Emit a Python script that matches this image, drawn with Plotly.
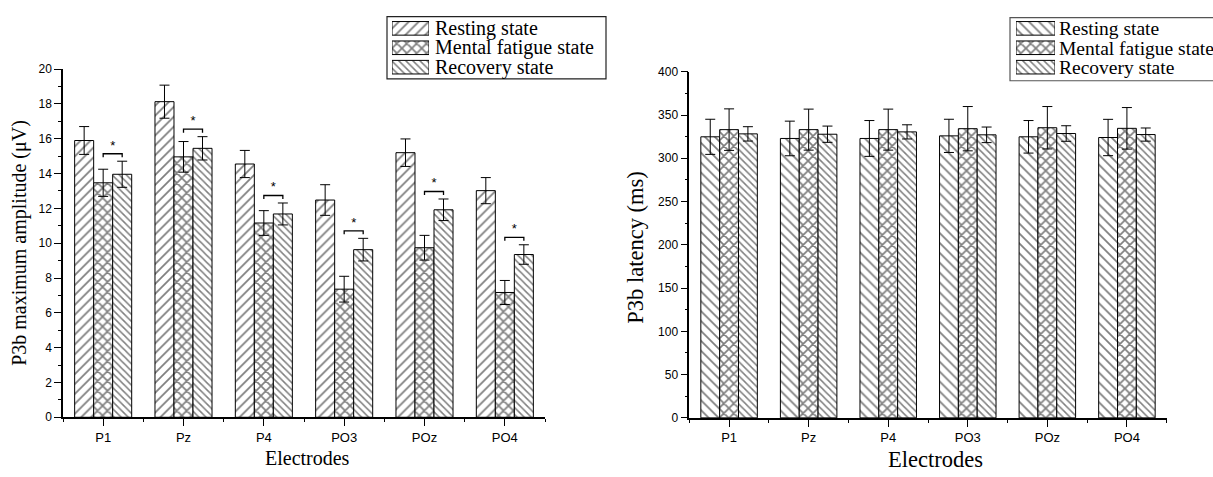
import plotly.graph_objects as go

# ---------------- data ----------------
electrodes = ["P1", "Pz", "P4", "PO3", "POz", "PO4"]
state_names = ["Resting state", "Mental fatigue state", "Recovery state"]

amp_rest = [15.9, 18.13, 14.55, 12.48, 15.2, 13.02]
amp_rest_err = [0.8, 0.95, 0.78, 0.88, 0.79, 0.75]
amp_fatigue = [13.47, 14.96, 11.16, 7.36, 9.74, 7.17]
amp_fatigue_err = [0.78, 0.88, 0.71, 0.74, 0.71, 0.69]
amp_recovery = [13.96, 15.45, 11.68, 9.63, 11.92, 9.35]
amp_recovery_err = [0.75, 0.67, 0.63, 0.65, 0.62, 0.56]

lat_rest = [324.8, 322.9, 322.9, 325.9, 324.8, 324.0]
lat_rest_err = [20.3, 20.0, 20.7, 19.2, 18.8, 21.0]
lat_fatigue = [333.1, 333.1, 333.1, 334.2, 335.3, 334.6]
lat_fatigue_err = [24.0, 23.7, 23.7, 25.6, 24.5, 24.0]
lat_recovery = [328.2, 327.8, 330.5, 327.1, 328.6, 327.4]
lat_recovery_err = [8.3, 9.4, 8.2, 9.0, 9.0, 7.6]

amp_ticks = list(range(0, 21, 2))
lat_ticks = list(range(0, 401, 50))

# ---------------- style ----------------
W, H = 1213, 477
SERIF = "Liberation Serif, Times New Roman, serif"
SANS = "Liberation Sans, Arial, sans-serif"
BARGAP = 0.29
BW = (1 - BARGAP) / 3

def px_x(p):
    return p / W

def px_y(p):
    return 1 - p / H

pat_left = [dict(shape="/", size=7, solidity=0.25),
            dict(shape="x", size=7, solidity=0.42),
            dict(shape="\\", size=5, solidity=0.3)]
pat_right = [dict(shape="\\", size=7, solidity=0.25),
             dict(shape="x", size=7, solidity=0.42),
             dict(shape="\\", size=5, solidity=0.3)]

fig = go.Figure()
xs = list(range(len(electrodes)))

def add_bars(vals, errs, pats, xa, ya):
    for k, (v, e, p) in enumerate(zip(vals, errs, pats)):
        fig.add_trace(go.Bar(
            x=xs, y=v, name=state_names[k], offsetgroup=str(k),
            xaxis=xa, yaxis=ya, showlegend=False,
            marker=dict(color="white", line=dict(color="black", width=1),
                        pattern=dict(fgcolor="black", bgcolor="white", **p)),
            error_y=dict(type="data", array=e, visible=True, color="black",
                         thickness=1, width=5),
        ))

add_bars([amp_rest, amp_fatigue, amp_recovery],
         [amp_rest_err, amp_fatigue_err, amp_recovery_err], pat_left, "x", "y")
add_bars([lat_rest, lat_fatigue, lat_recovery],
         [lat_rest_err, lat_fatigue_err, lat_recovery_err], pat_right, "x2", "y2")

# significance brackets between fatigue and recovery (left panel)
bx, by, sx, sy = [], [], [], []
for i in xs:
    top = amp_recovery[i] + amp_recovery_err[i] + 0.43
    x0, x1 = i, i + BW
    bx += [x0, x0, x1, x1, None]
    by += [top - 0.2, top, top, top - 0.2, None]
    sx.append((x0 + x1) / 2)
    sy.append(top + 0.42)
fig.add_trace(go.Scatter(x=bx, y=by, mode="lines", line=dict(color="black", width=1.3),
                         xaxis="x", yaxis="y", showlegend=False, hoverinfo="skip"))
fig.add_trace(go.Scatter(x=sx, y=sy, mode="text", text=["*"] * len(sx),
                         textfont=dict(family=SANS, size=13, color="black"),
                         xaxis="x", yaxis="y", showlegend=False, hoverinfo="skip"))

# legend swatches (drawn as patterned bars on small helper axes)
sw_idx = [0, 1, 2]
for k in range(3):
    fig.add_trace(go.Bar(x=[1], y=[sw_idx[k]], orientation="h", xaxis="x3", yaxis="y3",
                         width=0.7, showlegend=False, hoverinfo="skip",
                         marker=dict(color="white", line=dict(color="black", width=1),
                                     pattern=dict(fgcolor="black", bgcolor="white", **pat_left[k]))))
    fig.add_trace(go.Bar(x=[1], y=[sw_idx[k]], orientation="h", xaxis="x4", yaxis="y4",
                         width=0.7, showlegend=False, hoverinfo="skip",
                         marker=dict(color="white", line=dict(color="black", width=1),
                                     pattern=dict(fgcolor="black", bgcolor="white", **pat_right[k]))))

axis_common = dict(showline=True, linecolor="black", linewidth=1.5, ticks="outside",
                   tickcolor="black", tickwidth=1.3, showgrid=False, zeroline=False,
                   mirror=False)

minor_x = dict(tickvals=[i - 0.5 for i in range(len(electrodes) + 1)],
               ticks="outside", ticklen=3, tickcolor="black", tickwidth=1.3, showgrid=False)

fig.update_layout(
    width=W, height=H, margin=dict(l=0, r=0, t=0, b=0),
    paper_bgcolor="white", plot_bgcolor="white",
    barmode="group", bargap=BARGAP, bargroupgap=0,
    showlegend=False,
    xaxis=dict(domain=[px_x(63), px_x(545)], range=[-0.5, len(electrodes) - 0.5],
               tickvals=xs, ticktext=electrodes, ticklen=7, anchor="y",
               tickfont=dict(family=SANS, size=13, color="black"), minor=minor_x,
               **axis_common),
    yaxis=dict(domain=[px_y(422.7), px_y(64)], range=[0, 20], tickvals=amp_ticks,
               ticklen=7, anchor="x", tickfont=dict(family=SANS, size=12, color="black"),
               minor=dict(dtick=1, tick0=0, ticks="outside", ticklen=3, tickcolor="black",
                          tickwidth=1.3, showgrid=False),
               **axis_common),
    xaxis2=dict(domain=[px_x(689.3), px_x(1166.7)], range=[-0.5, len(electrodes) - 0.5],
                tickvals=xs, ticktext=electrodes, ticklen=7, anchor="y2",
                tickfont=dict(family=SANS, size=13, color="black"), minor=minor_x,
                **axis_common),
    yaxis2=dict(domain=[px_y(423.3), px_y(66.7)], range=[0, 400], tickvals=lat_ticks,
                ticklen=7, anchor="x2", tickfont=dict(family=SANS, size=12, color="black"),
                minor=dict(dtick=25, tick0=0, ticks="outside", ticklen=3, tickcolor="black",
                           tickwidth=1.3, showgrid=False),
                **axis_common),
    xaxis3=dict(domain=[px_x(392), px_x(429)], range=[0, 1], visible=False, anchor="y3",
                fixedrange=True),
    yaxis3=dict(domain=[px_y(72), px_y(12)], range=[2.5, -0.5], visible=False, anchor="x3",
                fixedrange=True),
    xaxis4=dict(domain=[px_x(1016), px_x(1055)], range=[0, 1], visible=False, anchor="y4",
                fixedrange=True),
    yaxis4=dict(domain=[px_y(72), px_y(12)], range=[2.5, -0.5], visible=False, anchor="x4",
                fixedrange=True),
)

# legend boxes
fig.add_shape(type="rect", xref="paper", yref="paper", x0=px_x(387), x1=px_x(606),
              y0=px_y(74), y1=px_y(10), line=dict(color="#222", width=1.2))
fig.add_shape(type="rect", xref="paper", yref="paper", x0=px_x(1010), x1=px_x(1225),
              y0=px_y(76), y1=px_y(11), line=dict(color="#555", width=1.2))

# legend texts
for k, name in enumerate(state_names):
    fig.add_annotation(x=px_x(433), y=px_y(22 + 20 * k), xref="paper", yref="paper",
                       text=name, showarrow=False, xanchor="left", yanchor="middle",
                       font=dict(family=SERIF, size=20, color="black"))
    fig.add_annotation(x=px_x(1057), y=px_y(22.5 + 20 * k), xref="paper", yref="paper",
                       text=name, showarrow=False, xanchor="left", yanchor="middle",
                       font=dict(family=SERIF, size=19.5, color="black"))

# axis titles
fig.add_annotation(x=px_x(20), y=px_y(243), xref="paper", yref="paper",
                   text="P3b maximum amplitude (\u03bcV)", textangle=-90, showarrow=False,
                   xanchor="center", yanchor="middle",
                   font=dict(family=SERIF, size=20, color="black"))
fig.add_annotation(x=px_x(307), y=px_y(465), xref="paper", yref="paper",
                   text="Electrodes", showarrow=False, xanchor="center", yanchor="middle",
                   font=dict(family=SERIF, size=20, color="black"))
fig.add_annotation(x=px_x(636), y=px_y(248), xref="paper", yref="paper",
                   text="P3b latency (ms)", textangle=-90, showarrow=False,
                   xanchor="center", yanchor="middle",
                   font=dict(family=SERIF, size=22.5, color="black"))
fig.add_annotation(x=px_x(935), y=px_y(466), xref="paper", yref="paper",
                   text="Electrodes", showarrow=False, xanchor="center", yanchor="middle",
                   font=dict(family=SERIF, size=22.5, color="black"))

fig.write_html("out.html", config={"displayModeBar": False},
               post_script="document.body.style.margin='0';")
